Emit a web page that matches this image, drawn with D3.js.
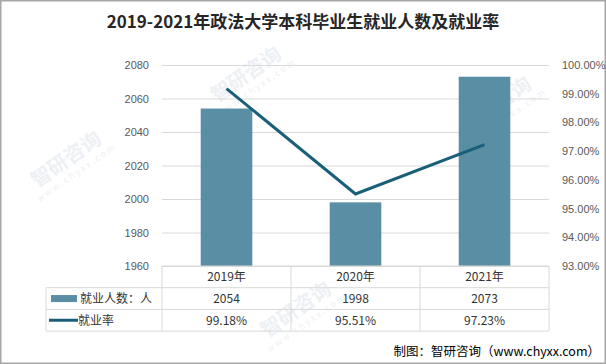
<!DOCTYPE html>
<html>
<head>
<meta charset="utf-8">
<script src="https://cdn.jsdelivr.net/npm/d3@7"></script>
<style>
  body { margin: 0; background: #fff; }
  svg { display: block; font-family: "Microsoft YaHei", "Noto Sans CJK SC", sans-serif; }
  .grid line { stroke: #d9d9d9; }
  .grid path { display: none; }
  .axis path, .axis line { display: none; }
  .axis text { fill: #595959; font-size: 11px; }
  .cell { font-size: 12px; fill: #333; }
</style>
</head>
<body>
<svg id="chart" width="606" height="364"></svg>
<script>
var years = ["2019年", "2020年", "2021年"];
var employed = [2054, 1998, 2073];
var rate = [99.18, 95.51, 97.23];
var leftTicks = [1960, 1980, 2000, 2020, 2040, 2060, 2080];
var rightTicks = [93, 94, 95, 96, 97, 98, 99, 100];

var svg = d3.select("#chart"),
	width = 606,
	height = 364,
	margins = { top: 65, right: 57, bottom: 98, left: 162 };

var x = d3.scaleBand()
	.domain(years)
	.range([margins.left, width - margins.right])
	.paddingInner(0.6)
	.paddingOuter(0.3);

var xCat = d3.scaleBand()
	.domain(years)
	.range([margins.left, width - margins.right]);

var yLeft = d3.scaleLinear()
	.domain([1960, 2080])
	.range([height - margins.bottom, margins.top]);

var yRight = d3.scaleLinear()
	.domain([93, 100])
	.range([height - margins.bottom, margins.top]);

// frame
svg.append("rect")
	.attr("x", 0.75).attr("y", 0.75)
	.attr("width", width - 1.5).attr("height", height - 1.5)
	.attr("fill", "none").attr("stroke", "#a6a6a6").attr("stroke-width", 1.5);

// watermarks (faint, kept inside the frame)
var marks = [[70, 165], [250, 80], [500, 110], [300, 315]];
marks.forEach(function (m) {
	var g = svg.append("g")
		.attr("transform", "translate(" + m[0] + "," + m[1] + ") rotate(-35)")
		.attr("fill", "#edf1f5");
	g.append("text").attr("font-size", 20).attr("font-weight", "bold")
		.attr("text-anchor", "middle").text("智研咨询");
	g.append("text").attr("font-size", 9).attr("y", 13)
		.attr("text-anchor", "middle").text("w w w . c h y x x . c o m");
});

// gridlines
svg.append("g")
	.attr("class", "grid")
	.attr("transform", "translate(" + margins.left + ",0)")
	.call(d3.axisLeft(yLeft)
		.tickValues(leftTicks)
		.tickSize(-(width - margins.left - margins.right))
		.tickFormat(""));

// axes
svg.append("g")
	.attr("class", "axis")
	.attr("transform", "translate(" + (margins.left - 10) + ",0)")
	.call(d3.axisLeft(yLeft).tickValues(leftTicks).tickSize(0).tickFormat(d3.format("d")));

svg.append("g")
	.attr("class", "axis")
	.attr("transform", "translate(" + (width - margins.right + 10) + ",0)")
	.call(d3.axisRight(yRight).tickValues(rightTicks).tickSize(0)
		.tickFormat(function (d) { return d.toFixed(2) + "%"; }));

// bars
svg.selectAll(".bar")
	.data(employed)
	.enter().append("rect")
	.attr("class", "bar")
	.attr("x", function (d, i) { return x(years[i]); })
	.attr("width", x.bandwidth())
	.attr("y", function (d) { return yLeft(d); })
	.attr("height", function (d) { return yLeft(1960) - yLeft(d); })
	.attr("fill", "#5a8ea5");

// line
var line = d3.line()
	.x(function (d, i) { return xCat(years[i]) + xCat.bandwidth() / 2; })
	.y(function (d) { return yRight(d); });

svg.append("path")
	.attr("d", line(rate))
	.attr("fill", "none")
	.attr("stroke", "#1a5f7a")
	.attr("stroke-width", 3);

// data table
var tableLeft = 46,
	rowH = 21.7,
	top0 = height - margins.bottom,
	right0 = width - margins.right;
var tbl = svg.append("g").attr("stroke", "#d9d9d9").attr("stroke-width", 1);

[0, 1, 2, 3].forEach(function (r) {
	var yy = top0 + r * rowH;
	tbl.append("line")
		.attr("x1", r === 0 ? margins.left : tableLeft).attr("x2", right0)
		.attr("y1", yy).attr("y2", yy);
});
tbl.append("line").attr("x1", tableLeft).attr("x2", tableLeft)
	.attr("y1", top0 + rowH).attr("y2", top0 + 3 * rowH);
years.forEach(function (c, i) {
	tbl.append("line").attr("x1", xCat(c)).attr("x2", xCat(c))
		.attr("y1", top0).attr("y2", top0 + 3 * rowH);
});
tbl.append("line").attr("x1", right0).attr("x2", right0)
	.attr("y1", top0).attr("y2", top0 + 3 * rowH);

var rows = [years, employed.map(String), rate.map(function (d) { return d.toFixed(2) + "%"; })];
rows.forEach(function (row, r) {
	svg.selectAll(".r" + r)
		.data(row)
		.enter().append("text")
		.attr("class", "cell")
		.attr("text-anchor", "middle")
		.attr("x", function (d, i) { return xCat(years[i]) + xCat.bandwidth() / 2; })
		.attr("y", top0 + r * rowH + rowH / 2 + 4.5)
		.text(function (d) { return d; });
});

// legend keys in table
svg.append("rect")
	.attr("x", 51).attr("y", top0 + rowH * 1.5 - 3.5)
	.attr("width", 26).attr("height", 7)
	.attr("fill", "#5a8ea5");
svg.append("text").attr("class", "cell")
	.attr("x", 80).attr("y", top0 + rowH * 1.5 + 4.5)
	.text("就业人数：人");
svg.append("line")
	.attr("x1", 49).attr("x2", 78)
	.attr("y1", top0 + rowH * 2.5).attr("y2", top0 + rowH * 2.5)
	.attr("stroke", "#1a5f7a").attr("stroke-width", 3);
svg.append("text").attr("class", "cell")
	.attr("x", 78).attr("y", top0 + rowH * 2.5 + 4.5)
	.text("就业率");

// title
svg.append("text")
	.attr("x", width / 2)
	.attr("y", 28)
	.attr("text-anchor", "middle")
	.attr("font-size", 17)
	.attr("font-weight", "bold")
	.attr("fill", "#262626")
	.text("2019-2021年政法大学本科毕业生就业人数及就业率");

// source
svg.append("text")
	.attr("x", width - 6)
	.attr("y", 356)
	.attr("text-anchor", "end")
	.attr("font-size", 12.5)
	.attr("fill", "#000")
	.text("制图：智研咨询（www.chyxx.com）");
</script>
</body>
</html>
